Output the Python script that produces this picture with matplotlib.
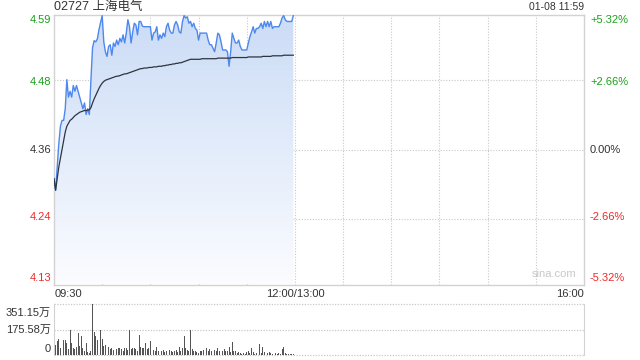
import numpy as np
import matplotlib
matplotlib.use("Agg")
import matplotlib.pyplot as plt
from matplotlib.colors import LinearSegmentedColormap

# -----------------------------
# Data (one value per minute, 09:30 .. 11:59)
# -----------------------------

PREV_CLOSE = 4.36
TITLE = "02727 上海电气"
STAMP = "01-08 11:59"

price = [
    4.31, 4.29, 4.33, 4.37, 4.40, 4.41, 4.41, 4.43, 4.48, 4.45,
    4.46, 4.45, 4.47, 4.46, 4.47, 4.46, 4.45, 4.44, 4.43, 4.44,
    4.42, 4.43, 4.42, 4.48, 4.535, 4.547, 4.545, 4.55, 4.566, 4.578,
    4.59, 4.545, 4.528, 4.52, 4.537, 4.54, 4.522, 4.543, 4.537, 4.548,
    4.54, 4.551, 4.545, 4.557, 4.543, 4.56, 4.583, 4.571, 4.543, 4.562,
    4.577, 4.574, 4.557, 4.58, 4.58, 4.572, 4.571, 4.571, 4.571, 4.571,
    4.571, 4.548, 4.56, 4.562, 4.571, 4.548, 4.557, 4.551, 4.56, 4.554,
    4.571, 4.577, 4.565, 4.56, 4.56, 4.574, 4.58, 4.574, 4.562, 4.56,
    4.58, 4.59, 4.586, 4.588, 4.577, 4.58, 4.571, 4.577, 4.568, 4.565,
    4.548, 4.56, 4.56, 4.56, 4.56, 4.56, 4.548, 4.54, 4.54, 4.534,
    4.528, 4.543, 4.56, 4.557, 4.545, 4.531, 4.531, 4.531, 4.528, 4.503,
    4.528, 4.56, 4.551, 4.543, 4.543, 4.548, 4.537, 4.531, 4.531, 4.531,
    4.531, 4.543, 4.554, 4.562, 4.571, 4.56, 4.568, 4.568, 4.571, 4.577,
    4.568, 4.58, 4.571, 4.58, 4.571, 4.58, 4.568, 4.571, 4.571, 4.571,
    4.571, 4.577, 4.586, 4.59, 4.583, 4.58, 4.58, 4.58, 4.58, 4.59,
]

avg_price = [
    4.31, 4.29, 4.31, 4.33, 4.345, 4.36, 4.375, 4.39, 4.40, 4.405,
    4.41, 4.412, 4.415, 4.418, 4.42, 4.422, 4.424, 4.425, 4.426, 4.427,
    4.427, 4.428, 4.428, 4.432, 4.44, 4.447, 4.453, 4.459, 4.465, 4.47,
    4.474, 4.477, 4.479, 4.48, 4.481, 4.482, 4.483, 4.484, 4.485, 4.486,
    4.486, 4.487, 4.488, 4.489, 4.49, 4.49, 4.491, 4.492, 4.493, 4.494,
    4.495, 4.496, 4.497, 4.498, 4.499, 4.499, 4.50, 4.50, 4.50, 4.501,
    4.501, 4.501, 4.502, 4.502, 4.502, 4.503, 4.503, 4.503, 4.504, 4.504,
    4.505, 4.505, 4.506, 4.506, 4.507, 4.507, 4.508, 4.508, 4.509, 4.509,
    4.51, 4.511, 4.512, 4.513, 4.514, 4.515, 4.515, 4.515, 4.515, 4.515,
    4.515, 4.515, 4.516, 4.516, 4.516, 4.516, 4.516, 4.516, 4.516, 4.516,
    4.516, 4.516, 4.517, 4.517, 4.517, 4.517, 4.517, 4.517, 4.517, 4.517,
    4.517, 4.518, 4.518, 4.518, 4.518, 4.518, 4.518, 4.518, 4.518, 4.518,
    4.518, 4.519, 4.519, 4.519, 4.519, 4.519, 4.519, 4.519, 4.519, 4.519,
    4.52, 4.52, 4.52, 4.52, 4.52, 4.52, 4.521, 4.521, 4.521, 4.521,
    4.521, 4.521, 4.521, 4.522, 4.522, 4.522, 4.522, 4.522, 4.522, 4.522,
]

# volume in 万 shares
volume = [
    40, 70, 95, 110, 45, 60, 100, 100, 80, 40,
    170, 85, 45, 40, 55, 150, 65, 130, 45, 30,
    85, 20, 15, 30, 351, 160, 130, 100, 140, 170,
    110, 60, 70, 90, 55, 40, 45, 35, 55, 40,
    50, 45, 40, 30, 50, 45, 35, 170, 40, 50,
    45, 40, 30, 140, 55, 45, 50, 80, 40, 50,
    95, 45, 35, 25, 55, 30, 40, 25, 35, 20,
    30, 25, 35, 30, 20, 25, 35, 20, 55, 30,
    45, 130, 50, 35, 30, 170, 40, 25, 30, 20,
    15, 30, 25, 35, 20, 45, 25, 40, 30, 20,
    35, 25, 50, 30, 20, 25, 40, 30, 25, 55,
    20, 90, 30, 25, 15, 20, 15, 10, 15, 10,
    20, 25, 15, 45, 20, 10, 15, 50, 75, 15,
    55, 20, 10, 15, 20, 15, 10, 20, 15, 10,
    15, 10, 40, 55, 15, 10, 8, 10, 5, 8,
]

price_ticks = [4.59, 4.48, 4.36, 4.24, 4.13]
pct_ticks = ["+5.32%", "+2.66%", "0.00%", "-2.66%", "-5.32%"]
vol_ticks = ["351.15万", "175.58万", "0"]
VOL_MAX = 351.15

# -----------------------------
# Style
# -----------------------------

plt.rcParams["font.family"] = ["Liberation Sans", "Noto Sans CJK SC", "DejaVu Sans"]

GREEN = "#1aa11a"
RED = "#ee2a2a"
DARK = "#333333"
GRID = "#c8c8c8"
BORDER = "#d2d2d2"
LINE = "#4d88ee"
AVG = "#2e3440"

W, H = 640, 360
fig = plt.figure(figsize=(6.4, 3.6), dpi=100)


def box(x0, y0, x1, y1):
    # pixel box (top-left origin) -> figure fraction rect
    return [x0 / W, 1 - y1 / H, (x1 - x0) / W, (y1 - y0) / H]


def ftext(x, y, s, **kw):
    fig.text(x / W, 1 - y / H, s, **kw)


minutes = np.arange(len(price))
ylo = PREV_CLOSE * (1 - 0.0532)
yhi = PREV_CLOSE * (1 + 0.0532)

# -----------------------------
# Price panel
# -----------------------------

ax = fig.add_axes(box(54, 14.5, 584, 284.5))
ax.set_xlim(0, 330)
ax.set_ylim(ylo, yhi)

for v in range(30, 330, 30):
    ax.axvline(v, color=GRID, lw=0.8, ls=(0, (1, 1.5)), zorder=1)
for p in price_ticks[1:-1]:
    ax.axhline(p, color=GRID, lw=0.8, ls=(0, (1, 1.5)), zorder=1)

# gradient fill under the price line
poly = ax.fill_between(minutes, price, ylo, color="none", lw=0)
cmap = LinearSegmentedColormap.from_list("fill", ["#fbfcff", "#cbdcf6"])
grad = np.linspace(0, 1, 256).reshape(-1, 1)
img = ax.imshow(grad, cmap=cmap, aspect="auto", origin="lower",
                extent=[0, minutes[-1], ylo, yhi], zorder=2)
img.set_clip_path(poly.get_paths()[0], transform=ax.transData)

ax.plot(minutes, price, color=LINE, lw=1.0, zorder=4)
ax.plot(minutes, avg_price, color=AVG, lw=0.9, zorder=4)

ax.set_xticks([])
ax.set_yticks([])
for s in ax.spines.values():
    s.set_color(BORDER)
    s.set_linewidth(1.0)

ax.text(0.985, 0.02, "sina.com", transform=ax.transAxes, ha="right",
        va="bottom", color="#c8c8c8", fontsize=8, zorder=5)

# axis labels (left prices, right percents)
ys = [20, 82, 149.5, 217, 278]
vas = ["center"] * 5
colors = [GREEN, GREEN, DARK, RED, RED]
for p, pc, y, c in zip(price_ticks, pct_ticks, ys, colors):
    ftext(51, y, f"{p:.2f}", ha="right", va="center", color=c, fontsize=8)
    ftext(590, y, pc, ha="left", va="center", color=c, fontsize=8)

ftext(54, 7, TITLE, ha="left", va="center", color=DARK, fontsize=9)
ftext(584, 7, STAMP, ha="right", va="center", color=DARK, fontsize=7.5)

ftext(55, 294, "09:30", ha="left", va="center", color=DARK, fontsize=8)
ftext(295, 294, "12:00/13:00", ha="center", va="center", color=DARK, fontsize=8)
ftext(584, 294, "16:00", ha="right", va="center", color=DARK, fontsize=8)

# -----------------------------
# Volume panel
# -----------------------------

vax = fig.add_axes(box(54, 304, 584, 355))
vax.set_xlim(0, 330)
vax.set_ylim(0, VOL_MAX)
vax.bar(minutes, volume, width=0.55, color="#555555", zorder=3)
for v in [VOL_MAX, VOL_MAX / 2, 0]:
    vax.axhline(v, color=GRID, lw=0.9, ls=(0, (1, 1.2)), zorder=1, clip_on=False)
vax.set_xticks([])
vax.set_yticks([])
for k, s in vax.spines.items():
    if k in ("top", "bottom"):
        s.set_visible(False)
    else:
        s.set_color(BORDER)

ftext(51, 313, vol_ticks[0], ha="right", va="center", color=DARK, fontsize=8)
ftext(51, 329.5, vol_ticks[1], ha="right", va="center", color=DARK, fontsize=8)
ftext(51, 349, vol_ticks[2], ha="right", va="center", color=DARK, fontsize=8)

fig.savefig("out.png", dpi=100)
